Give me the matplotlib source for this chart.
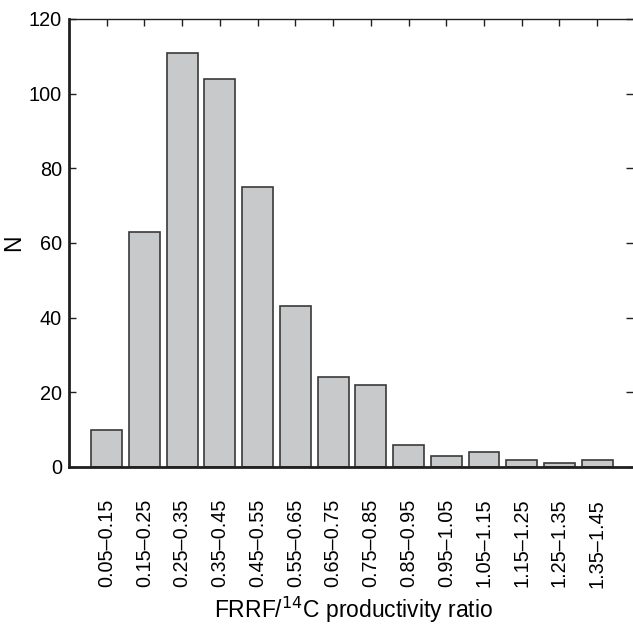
import matplotlib
matplotlib.use("Agg")
import matplotlib.pyplot as plt

plt.rcParams['font.family'] = ['Liberation Sans', 'DejaVu Sans']

bins = ['0.05\u20130.15', '0.15\u20130.25', '0.25\u20130.35', '0.35\u20130.45',
        '0.45\u20130.55', '0.55\u20130.65', '0.65\u20130.75', '0.75\u20130.85',
        '0.85\u20130.95', '0.95\u20131.05', '1.05\u20131.15', '1.15\u20131.25',
        '1.25\u20131.35', '1.35\u20131.45']
counts = [10, 63, 111, 104, 75, 43, 24, 22, 6, 3, 4, 2, 1, 2]
y_ticks = [0, 20, 40, 60, 80, 100, 120]

fig = plt.figure(figsize=(6.33, 6.25), dpi=100)
ax = fig.add_axes([69 / 633, 158 / 625, 1 - 69 / 633, 448 / 625])

pos = list(range(len(counts)))
ax.bar(pos, counts, width=0.82, color='#c8c9cb', edgecolor='#3a3a3a', linewidth=1.2, zorder=2)

ax.set_xlim(-1.0, 13.95)
ax.set_ylim(0, 120)
ax.set_xticks(pos)
ax.set_xticklabels(bins, rotation=90, fontsize=14.3)
ax.set_yticks(y_ticks)
ax.set_yticklabels([str(v) for v in y_ticks], fontsize=14.3)

ax.tick_params(axis='x', top=True, bottom=False, direction='in', length=5, width=1,
               pad=23, color='#231f20')
ax.tick_params(axis='y', left=True, right=True, direction='in', length=5, width=1,
               pad=5, color='#231f20')

ax.spines['right'].set_visible(False)
ax.spines['left'].set_linewidth(2)
ax.spines['bottom'].set_linewidth(2)
ax.spines['top'].set_linewidth(1)
for s in ax.spines.values():
    s.set_color('#231f20')

ax.set_xlabel('FRRF/$^{14}$C productivity ratio', fontsize=16.5, va='baseline')
ax.xaxis.set_label_coords(0.505, (7 - 158) / 448)
ax.set_ylabel('N', fontsize=16.5, labelpad=3)

fig.savefig('out.png', dpi=100)
